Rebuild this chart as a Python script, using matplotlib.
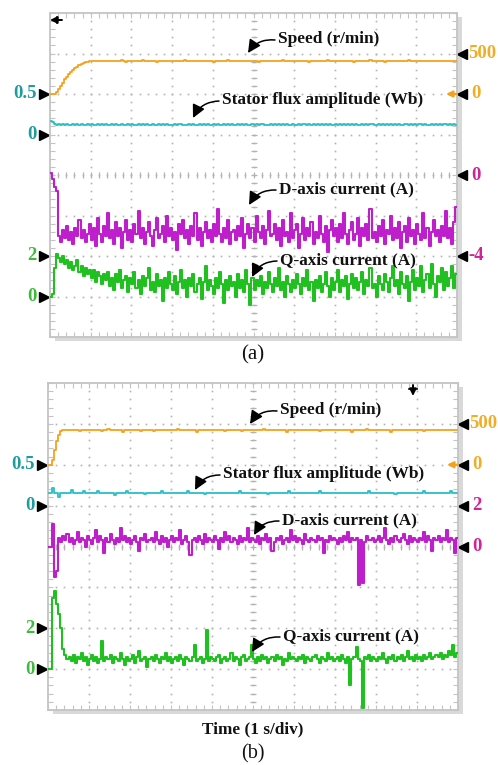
import numpy as np
import matplotlib
matplotlib.use("Agg")
import matplotlib.pyplot as plt
from matplotlib.patches import Rectangle, FancyArrowPatch
from matplotlib.transforms import blended_transform_factory, IdentityTransform

# ---------------- data ----------------
# every trace: 200 samples over 10 s (1 s/div, 10 div)
# (a) speed, r/min
speed_a = [0, 0, 0, 30, 65, 100, 140, 180, 215, 245,
           270, 295, 318, 338, 355, 370, 383, 393, 400, 405,
           408, 410, 412, 409, 411, 404, 410, 413, 409, 410,
           412, 406, 410, 411, 409, 414, 410, 398, 411, 409,
           410, 412, 410, 407, 411, 420, 409, 410, 412, 408,
           410, 411, 400, 410, 412, 409, 410, 413, 408, 411,
           410, 406, 412, 409, 410, 411, 421, 410, 408, 412,
           409, 410, 402, 411, 409, 413, 410, 408, 411, 410,
           397, 410, 412, 409, 411, 410, 408, 418, 410, 411,
           409, 412, 410, 403, 411, 409, 410, 412, 408, 410,
           411, 409, 400, 412, 410, 409, 411, 410, 413, 409,
           410, 412, 408, 411, 419, 410, 409, 411, 404, 410,
           412, 409, 410, 411, 408, 410, 413, 399, 410, 411,
           409, 410, 412, 408, 411, 410, 422, 409, 410, 412,
           410, 405, 411, 409, 410, 412, 408, 411, 410, 401,
           411, 409, 412, 410, 408, 411, 410, 417, 409, 410,
           412, 408, 410, 411, 398, 410, 412, 409, 411, 410,
           409, 411, 410, 413, 408, 410, 420, 411, 409, 410,
           411, 404, 410, 412, 409, 410, 411, 408, 412, 410,
           409, 411, 410, 402, 412, 409, 410, 411, 408, 410]
# (a) stator flux amplitude, mWb
flux_a = [172, 150, 130, 122, 127, 120, 125, 117, 128, 122,
          119, 128, 121, 125, 116, 127, 123, 119, 130, 121,
          125, 117, 123, 128, 120, 125, 121, 127, 118, 123,
          129, 120, 125, 121, 116, 127, 123, 119, 128, 122,
          125, 118, 123, 127, 114, 125, 121, 128, 119, 123,
          127, 121, 117, 125, 123, 130, 120, 125, 116, 123,
          121, 127, 119, 125, 128, 118, 123, 121, 127, 119,
          125, 115, 123, 128, 121, 125, 119, 127, 123, 118,
          125, 121, 130, 119, 123, 127, 116, 125, 121, 128,
          119, 123, 125, 118, 127, 121, 125, 119, 123, 127,
          121, 126, 118, 124, 129, 120, 123, 117, 126, 122,
          127, 119, 124, 121, 128, 116, 125, 122, 119, 127,
          123, 118, 126, 121, 125, 130, 119, 124, 122, 127,
          117, 125, 122, 128, 120, 124, 119, 126, 123, 121,
          129, 120, 124, 118, 126, 122, 127, 115, 124, 121,
          126, 119, 123, 128, 121, 125, 118, 124, 127, 120,
          123, 126, 117, 125, 122, 128, 120, 124, 119, 126,
          121, 127, 123, 118, 125, 129, 120, 124, 122, 126,
          119, 124, 128, 121, 125, 117, 123, 127, 120, 125,
          122, 126, 119, 124, 128, 121, 125, 118, 124, 122]
# (a) d-axis current, 0.1 A
id_a = [1, -2, -6, -8, -30, -33, -27, -31, -25, -32,
        -28, -34, -26, -30, -22, -31, -27, -33, -29, -24,
        -32, -26, -35, -21, -29, -33, -25, -30, -19, -31,
        -27, -34, -23, -30, -26, -36, -28, -22, -32, -27,
        -33, -24, -29, -18, -31, -26, -34, -28, -23, -30,
        -35, -27, -21, -31, -29, -25, -33, -20, -30, -26,
        -32, -28, -37, -24, -29, -22, -31, -27, -34, -25,
        -30, -19, -32, -26, -35, -28, -23, -31, -27, -33,
        -24, -30, -17, -29, -33, -26, -31, -22, -34, -28,
        -27, -32, -25, -30, -21, -36, -29, -24, -31, -26,
        -33, -20, -28, -31, -25, -34, -27, -18, -30, -29,
        -24, -32, -26, -35, -22, -30, -28, -33, -19, -31,
        -27, -24, -36, -29, -21, -32, -26, -30, -23, -34,
        -28, -31, -20, -29, -33, -25, -38, -27, -22, -30,
        -26, -33, -24, -31, -19, -29, -34, -27, -23, -32,
        -29, -21, -35, -26, -30, -24, -32, -17, -31, -28,
        -33, -25, -30, -22, -34, -27, -29, -20, -32, -26,
        -31, -23, -36, -28, -25, -33, -21, -30, -27, -34,
        -24, -29, -32, -19, -31, -26, -35, -28, -22, -30,
        -27, -33, -25, -30, -18, -31, -26, -34, -23, -16]
# (a) q-axis current, 0.1 A
iq_a = [0, 1, 14, 21, 19, 17, 20, 16, 18, 14,
        17, 13, 15, 18, 12, 15, 10, 14, 11, 13,
        9, 13, 7, 12, 10, 6, 11, 8, 12, 5,
        9, 3, 11, 7, 13, 4, 8, 10, 2, 9,
        6, 12, 4, 8, 1, 10, 5, 9, 14, 3,
        7, 2, 11, 5, 8, -2, 9, 4, 12, 6,
        3, 10, 1, 7, 13, 4, 8, 0, 9, 5,
        11, 2, 6, 9, -1, 7, 15, 3, 8, 5,
        1, 9, 4, 12, 6, -3, 8, 3, 10, 5,
        7, 0, 11, 4, 8, 2, 13, 6, -4, 9,
        3, 8, 5, 10, 1, 7, 4, 12, 6, 2,
        9, 5, 14, 3, 7, 0, 10, 6, 2, 8,
        4, 11, 6, 1, 9, 5, 13, 3, 7, -2,
        8, 4, 10, 2, 6, 12, 5, 0, 9, 3,
        7, 13, 2, 8, 5, 10, -1, 6, 11, 4,
        9, 3, 7, 12, 1, 8, 5, 14, 4, 6,
        0, 10, 6, 3, 11, 7, 2, 9, 15, 5,
        8, 1, 12, 6, 4, 10, -2, 7, 13, 3,
        9, 5, 15, 2, 8, 11, 4, 16, 6, 0,
        10, 7, 14, 3, 12, 5, 9, 15, 4, 11]
# (b) speed, r/min
speed_b = [0, 0, 60, 180, 290, 370, 410, 422, 425, 421,
           423, 420, 422, 419, 421, 408, 422, 420, 424, 421,
           420, 422, 419, 423, 421, 420, 418, 422, 421, 435,
           420, 422, 419, 421, 423, 420, 406, 421, 422, 420,
           419, 423, 421, 420, 422, 418, 421, 423, 420, 421,
           422, 407, 420, 421, 419, 423, 421, 420, 422, 419,
           421, 420, 423, 436, 421, 420, 422, 419, 421, 420,
           423, 421, 405, 420, 422, 419, 421, 423, 420, 421,
           419, 422, 420, 421, 423, 420, 418, 422, 421, 420,
           422, 419, 421, 420, 408, 422, 421, 419, 423, 420,
           421, 422, 420, 419, 421, 434, 420, 422, 419, 421,
           420, 423, 421, 420, 422, 419, 406, 421, 420, 422,
           419, 421, 423, 420, 421, 422, 420, 419, 421, 423,
           420, 422, 407, 421, 420, 423, 419, 421, 422, 420,
           421, 419, 422, 420, 421, 423, 420, 422, 405, 421,
           420, 422, 419, 421, 420, 433, 421, 420, 422, 419,
           421, 420, 423, 421, 420, 422, 419, 406, 421, 420,
           422, 419, 421, 420, 423, 421, 420, 422, 419, 421,
           420, 422, 421, 408, 420, 423, 419, 421, 420, 422,
           421, 420, 422, 419, 421, 420, 423, 421, 420, 422]
# (b) stator flux amplitude, mWb
flux_b = [157, 158, 215, 156, 157, 100, 158, 157, 156, 158,
          157, 190, 156, 157, 158, 157, 156, 175, 157, 158,
          156, 157, 158, 157, 185, 156, 157, 158, 157, 156,
          157, 158, 130, 157, 156, 158, 157, 157, 180, 156,
          158, 157, 156, 157, 158, 157, 156, 140, 157, 158,
          157, 156, 158, 157, 157, 185, 156, 158, 157, 156,
          157, 158, 157, 156, 157, 158, 157, 156, 175, 157,
          158, 157, 156, 157, 158, 157, 140, 156, 157, 158,
          157, 156, 158, 157, 157, 156, 158, 157, 156, 157,
          158, 157, 156, 180, 157, 158, 157, 156, 157, 158,
          157, 156, 158, 157, 156, 157, 158, 140, 157, 156,
          157, 158, 157, 156, 157, 158, 157, 185, 156, 157,
          158, 157, 156, 157, 158, 157, 156, 157, 158, 157,
          156, 157, 175, 158, 157, 156, 157, 158, 157, 156,
          157, 158, 157, 156, 157, 150, 158, 157, 156, 157,
          158, 157, 156, 157, 158, 157, 180, 156, 157, 158,
          157, 156, 158, 157, 156, 157, 158, 157, 156, 140,
          157, 158, 157, 156, 157, 158, 157, 156, 157, 158,
          157, 156, 158, 175, 157, 156, 157, 158, 157, 156,
          157, 158, 157, 156, 157, 158, 185, 157, 156, 157]
# (b) d-axis current, 0.1 A
id_b = [0, 0, 11, -15, -12, 4, 2, 5, 3, 6,
        2, 4, 1, 3, 7, 2, 4, 3, 0, 5,
        3, 1, 4, 8, 2, 5, 3, -3, 4, 2,
        6, 3, 1, 4, 2, 9, 3, 5, 2, 4,
        1, 3, 5, 2, -2, 4, 3, 6, 2, 3,
        4, 2, 7, 3, 1, 5, 2, 4, 0, 3,
        5, 2, 4, 3, 8, 1, 3, 5, 2, -4,
        3, 4, 2, 5, 3, 1, 6, 2, 4, 3,
        2, 5, 3, -1, 4, 2, 7, 3, 5, 2,
        4, 3, 1, 5, 2, 4, 3, 9, 2, 4,
        3, 2, 5, 1, 4, 3, 6, 2, 4, -2,
        2, 4, 3, 5, 1, 3, 4, 2, 8, 3,
        5, 2, 4, 3, 1, 6, 3, 2, 4, 3,
        2, 5, 3, 4, -3, 3, 2, 5, 3, 4,
        3, 1, 4, 2, 5, 3, 7, 2, 4, 3,
        4, -19, 3, -18, 2, 5, 3, 3, 4, 2,
        3, 5, 2, 4, 9, 3, 1, 4, 2, 5,
        3, 2, 4, 6, 3, 1, 5, 2, 4, 3,
        2, 4, 3, 7, 2, 5, 3, -2, 4, 3,
        5, 2, 4, 3, 8, 2, 4, 3, -3, 4]
# (b) q-axis current, 0.1 A
iq_b = [0, 0, 35, 38, 32, 27, 20, 10, 7, 5,
        6, 4, 7, 3, 6, 5, 8, 4, 6, 2,
        5, 7, 4, 6, 3, 5, 14, 4, 6, 5,
        7, 3, 6, 5, 4, 8, 5, 2, 6, 4,
        5, 7, 3, 6, 9, 4, 5, 6, 1, 5,
        6, 4, 7, 5, 3, 6, 5, 8, 4, 6,
        3, 5, 6, 4, 7, 5, 2, 6, 5, 4,
        6, 12, 4, 5, 6, 3, 5, 19, 4, 6,
        5, 4, 6, 7, 3, 5, 6, 4, 5, 8,
        4, 6, 5, 2, 6, 7, 4, 5, 6, 12,
        5, 3, 6, 4, 7, 5, 6, 3, 5, 6,
        4, 7, 5, 6, 2, 5, 4, 8, 5, 6,
        5, 4, 6, 5, 7, 3, 6, 5, 4, 6,
        7, 5, 3, 6, 5, 4, 8, 5, 6, 4,
        5, 6, 4, 7, 5, 3, 6, -8, 5, 6,
        11, 5, 4, -19, 6, 5, 7, 4, 6, 5,
        4, 6, 5, 8, 5, 3, 6, 5, 7, 4,
        6, 5, 7, 4, 6, 9, 5, 6, 4, 7,
        5, 6, 4, 7, 5, 6, 8, 5, 6, 7,
        6, 8, 5, 7, 6, 9, 7, 12, 6, 8]

channel_names = ["Speed (r/min)", "Stator flux amplitude (Wb)",
                 "D-axis current (A)", "Q-axis current (A)"]
# scale markers (value, text)
flux_marks = [(0.5, "0.5"), (0.0, "0")]
iq_marks = [(2.0, "2"), (0.0, "0")]
speed_marks = [(500, "500"), (0, "0")]
id_marks_a = [(0.0, "0"), (-4.0, "-4")]
id_marks_b = [(2.0, "2"), (0.0, "0")]

# ---------------- style ----------------
W, H = 498, 765
FONT = "Liberation Serif"
BORDER = "#c4c4c4"
GRID = "#b3b3b3"
SHADOW = "#d9d9d9"
C_SPEED, L_SPEED = "#F6A11C", "#F2AD26"
C_FLUX, L_FLUX = "#27C0C4", "#1E9DA0"
C_ID, L_ID = "#BE1ECC", "#D0229A"
C_IQ, L_IQ = "#20C020", "#3CBE3C"
# per-channel units/div and zero position (div from bottom)
SCALES = {"speed": (500, 6), "flux": (0.5, 5), "id": (2, 4), "iq": (2, 1)}
LW = {"speed": 1.3, "flux": 1.3, "id": 1.5, "iq": 1.5}

fig = plt.figure(figsize=(W / 100, H / 100), dpi=100)
fig.patch.set_facecolor("white")


def fx(x):
    return x / W


def fy(y):
    return 1 - y / H


def panel(box, traces, left_marks, right_marks, labels, trig):
    l, t, r, b = box
    fig.add_artist(Rectangle((fx(l + 5), fy(b + 4)), fx(r - l), (b - t) / H,
                             transform=fig.transFigure, color=SHADOW,
                             zorder=-5, lw=0))
    ax = fig.add_axes([fx(l), fy(b), fx(r - l), (b - t) / H])
    ax.set_facecolor("white")
    ax.set_xlim(0, 10)
    ax.set_ylim(0, 8)
    for s in ax.spines.values():
        s.set_color(BORDER)
        s.set_linewidth(1.3)
    ax.set_xticks(np.arange(0, 10.001, 0.2))
    ax.set_yticks(np.arange(0, 8.001, 0.2))
    ax.tick_params(direction="in", length=3.5, width=0.8, color=BORDER,
                   top=True, right=True, labelleft=False, labelbottom=False)
    gx = np.arange(0, 10.001, 0.2)
    gy = np.arange(0, 8.001, 0.2)
    for k in range(1, 10):
        ax.plot(np.full_like(gy, k), gy, ls="none", marker="s", ms=1.2,
                mew=0, color=GRID, zorder=1)
    for k in range(1, 8):
        ax.plot(gx, np.full_like(gx, k), ls="none", marker="s", ms=1.2,
                mew=0, color=GRID, zorder=1)
    ax.plot(np.full_like(gy, 5), gy, ls="none", marker="_", ms=4.5,
            mew=0.9, color=GRID, zorder=1)
    ax.plot(gx, np.full_like(gx, 4), ls="none", marker="|", ms=4.5,
            mew=0.9, color=GRID, zorder=1)

    chans = {}
    for key, vals, scale, color in traces:
        per, zero = SCALES[key]
        c = fig.add_axes(ax.get_position().bounds, frameon=False)
        c.set_xlim(0, 10)
        c.set_ylim(-zero * per, (8 - zero) * per)
        c.set_axis_off()
        v = np.asarray(vals, float) * scale
        tt = (np.arange(len(v)) + 0.5) * 10.0 / len(v)
        c.plot(tt, v, color=color, lw=LW[key], drawstyle="steps-mid")
        chans[key] = c

    # scale markers
    for key, marks, color in left_marks:
        tr = blended_transform_factory(IdentityTransform(), chans[key].transData)
        for val, txt in marks:
            ax.plot([l - 6], [val], marker=">", ms=6.5, color="k",
                    transform=tr, clip_on=False)
            ax.text(l - 13.5, val, txt, transform=tr, ha="right", va="center",
                    color=color, fontsize=13.5, fontweight="bold",
                    family=FONT)
    for key, marks, color in right_marks:
        tr = blended_transform_factory(IdentityTransform(), chans[key].transData)
        for val, txt in marks:
            ax.plot([r + 5], [val], marker="<", ms=6.5, color="k",
                    transform=tr, clip_on=False)
            ax.text(r + (11 if len(txt) > 1 else 14), val, txt, transform=tr,
                    ha="left", va="center", color=color, fontsize=13.5,
                    fontweight="bold", family=FONT)
            if key == "speed" and val == 0:
                ax.annotate("", xy=(r - 11, val), xycoords=tr,
                            xytext=(r, val), textcoords=tr,
                            arrowprops=dict(arrowstyle="-|>", color=C_SPEED,
                                            lw=1.6, mutation_scale=9,
                                            shrinkA=0, shrinkB=0))

    # channel labels with curved arrows
    for name, (tx, ty), (tipx, tipy) in labels:
        fig.text(fx(tx), fy(ty), name, ha="left", va="center", fontsize=12.4,
                 fontweight="bold", family=FONT, color="#111111")
        fig.add_artist(FancyArrowPatch(
            (fx(tx - 3), fy(ty + 1)), (fx(tipx), fy(tipy)),
            transform=fig.transFigure, arrowstyle="-|>,head_length=0.6,head_width=0.3",
            connectionstyle="arc3,rad=0.3", mutation_scale=13, color="k",
            lw=1.1, shrinkA=0, shrinkB=0))

    # trigger marker
    kind, (mx, my) = trig
    if kind == "left":
        fig.add_artist(FancyArrowPatch((fx(mx + 12), fy(my)), (fx(mx), fy(my)),
                                       transform=fig.transFigure, arrowstyle="-|>",
                                       mutation_scale=10, color="k", lw=1.4,
                                       shrinkA=0, shrinkB=0))
        fig.add_artist(plt.Line2D([fx(mx + 7), fx(mx + 7)], [fy(my - 3), fy(my + 3)],
                                  transform=fig.transFigure, color="k", lw=1.2))
    else:
        fig.add_artist(FancyArrowPatch((fx(mx), fy(my - 11)), (fx(mx), fy(my)),
                                       transform=fig.transFigure, arrowstyle="-|>",
                                       mutation_scale=10, color="k", lw=1.4,
                                       shrinkA=0, shrinkB=0))
        fig.add_artist(plt.Line2D([fx(mx - 4), fx(mx + 4)], [fy(my - 7), fy(my - 7)],
                                  transform=fig.transFigure, color="k", lw=1.2))
    return ax


traces_a = [("speed", speed_a, 1.0, C_SPEED), ("flux", flux_a, 0.001, C_FLUX),
            ("iq", iq_a, 0.1, C_IQ), ("id", id_a, 0.1, C_ID)]
traces_b = [("speed", speed_b, 1.0, C_SPEED), ("flux", flux_b, 0.001, C_FLUX),
            ("iq", iq_b, 0.1, C_IQ), ("id", id_b, 0.1, C_ID)]

panel((50, 13, 457, 337), traces_a,
      [("flux", flux_marks, L_FLUX), ("iq", iq_marks, L_IQ)],
      [("speed", speed_marks, L_SPEED), ("id", id_marks_a, L_ID)],
      [(channel_names[0], (278, 39), (248, 53)),
       (channel_names[1], (222, 100), (193, 118)),
       (channel_names[2], (279, 189), (249, 205)),
       (channel_names[3], (280, 260), (252, 277))],
      ("left", (50, 20)))

panel((48, 383, 458, 710), traces_b,
      [("flux", flux_marks, L_FLUX), ("iq", iq_marks, L_IQ)],
      [("speed", speed_marks, L_SPEED), ("id", id_marks_b, L_ID)],
      [(channel_names[0], (280, 410), (250, 424)),
       (channel_names[1], (223, 474), (195, 490)),
       (channel_names[2], (282, 520), (254, 535)),
       (channel_names[3], (283, 636), (252, 652))],
      ("down", (413, 396)))

fig.text(fx(253), fy(355), "(a)", ha="center", va="center", fontsize=15,
         family=FONT, color="#111111")
fig.text(fx(253), fy(729), "Time (1 s/div)", ha="center", va="center",
         fontsize=12.4, fontweight="bold", family=FONT, color="#111111")
fig.text(fx(253), fy(754), "(b)", ha="center", va="center", fontsize=14.5,
         family=FONT, color="#111111")

fig.savefig("out.png", dpi=100, facecolor="white")
